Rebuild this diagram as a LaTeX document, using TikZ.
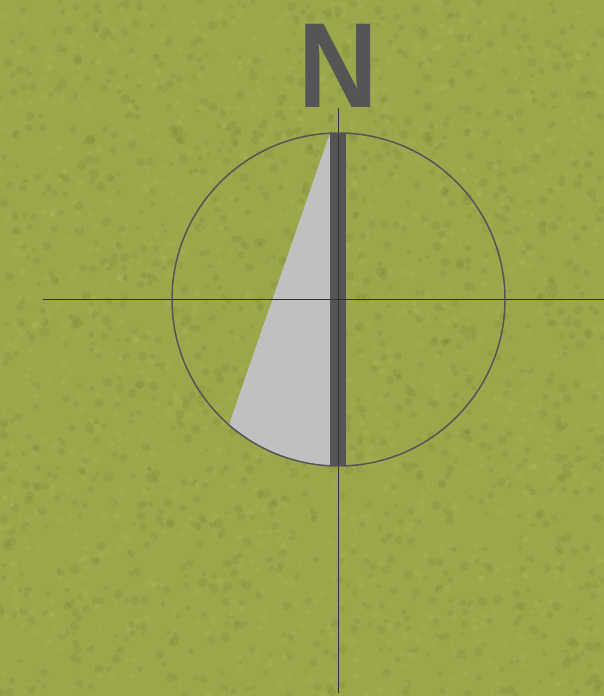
\documentclass[tikz,border=0pt]{standalone}
\usepackage{fontspec}
\setmainfont{Liberation Sans}
\usepackage{xcolor}
\definecolor{grass}{RGB}{156,166,74}
\definecolor{grasslight}{RGB}{182,190,94}
\definecolor{grassdark}{RGB}{116,126,52}
\definecolor{needle}{RGB}{85,85,85}
\definecolor{wedge}{RGB}{192,192,192}
\definecolor{cross}{RGB}{50,50,50}

\begin{document}
\begin{tikzpicture}[x=1pt,y=-1pt]
    \tikzset{crossline/.style={cross, line width=1pt}}
    % background
    \fill[grass] (0,0) rectangle (604,696);
    \useasboundingbox (0,0) rectangle (604,696);
    \pgfmathsetseed{11}
    \foreach \i in {1,...,1400}{
        \pgfmathsetmacro{\px}{rnd*604}
        \pgfmathsetmacro{\py}{rnd*696}
        \pgfmathsetmacro{\pr}{2+rnd*3}
        \fill[grassdark, opacity=0.18] (\px,\py) circle (\pr);
    }
    \foreach \i in {1,...,1400}{
        \pgfmathsetmacro{\px}{rnd*604}
        \pgfmathsetmacro{\py}{rnd*696}
        \pgfmathsetmacro{\pr}{1.5+rnd*2.5}
        \fill[grasslight, opacity=0.22] (\px,\py) circle (\pr);
    }
    \coordinate (O) at (338.5,299.5);

    % light wedge inside the circle
    \begin{scope}
        \clip (O) circle (166.5);
        \fill[wedge] (330,133) -- (196,520) -- (338,520) -- (338,133) -- cycle;
    \end{scope}

    % dark needle
    \fill[needle] (330,133) rectangle (346,466);

    % cross lines
    \draw[crossline] (43,299.5) -- (604,299.5);
    \draw[crossline] (338,108) -- (338,693);

    % ring
    \draw[needle, line width=1.5pt] (O) circle (166.5);

    % north label
    \node[needle, font=\bfseries\fontsize{121}{121}\selectfont, inner sep=0pt, anchor=base, xscale=0.91] (north) at (338.3,107.7) {N};
\end{tikzpicture}
\end{document}
